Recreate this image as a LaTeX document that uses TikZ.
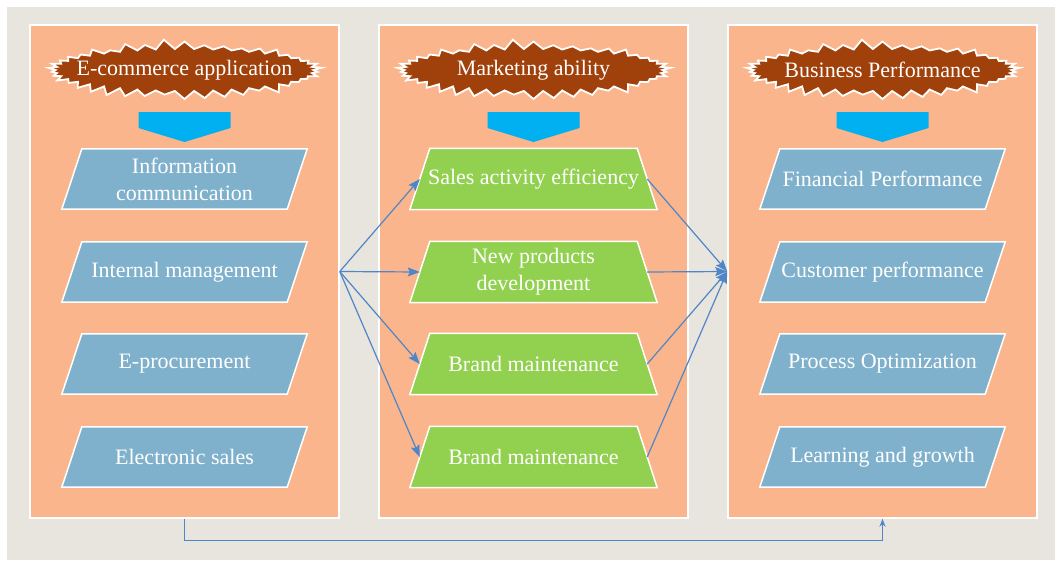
\documentclass[tikz,border=0pt]{standalone}
\usepackage{fontspec}
\setmainfont{Liberation Serif}
\usetikzlibrary{shapes.symbols,arrows.meta,calc,backgrounds}
\pgfdeclarelayer{boxes}
\pgfsetlayers{background,boxes,main}

\definecolor{canvasgrey}{HTML}{E8E4DE}
\definecolor{panelorange}{HTML}{FAB58C}
\definecolor{parablue}{HTML}{80B1CC}
\definecolor{trapgreen}{HTML}{92D050}
\definecolor{chevroncyan}{HTML}{00B0F0}
\definecolor{burstbrown}{HTML}{A0400A}
\definecolor{linkblue}{HTML}{4F86C8}

% title text that does not widen its starburst
\newcommand{\bursttext}[1]{\makebox[0pt]{#1}}

\tikzset{
  panel/.style={fill=panelorange, draw=white, line width=1.5pt,
    minimum width=309pt, minimum height=493pt, inner sep=0pt},
  burst/.style={shape=starburst, fill=burstbrown, draw=white, line width=1.8pt,
    starburst points=42, starburst point height=10pt, random starburst=11,
    minimum width=278pt, minimum height=62pt, inner sep=0pt, text=white,
    font=\fontsize{22}{26}\selectfont},
  boxtext/.style={inner sep=0pt, text=white, align=center,
    font=\fontsize{22}{27}\selectfont},
  parabox/.style={boxtext, minimum width=225pt, minimum height=60pt},
  trapbox/.style={boxtext, minimum width=247pt, minimum height=61pt},
  parashape/.style={fill=parablue, draw=white, line width=1.5pt},
  trapshape/.style={fill=trapgreen, draw=white, line width=1.5pt},
  link/.style={draw=linkblue, line width=1.2pt,
    -{Stealth[length=12pt, width=9pt, inset=2pt]}},
}

\begin{document}
\begin{tikzpicture}[x=1pt, y=-1pt]
  \useasboundingbox (0,0) rectangle (1055,560);

  % canvas and the three column panels
  \begin{pgfonlayer}{background}
    \fill[white] (0,0) rectangle (1055,560);
    \fill[canvasgrey] (7,7) rectangle (1055,560);
    \node[panel] (P1) at (184.5,271.5) {};
    \node[panel] (P2) at (533.5,271.5) {};
    \node[panel] (P3) at (882.5,271.5) {};
  \end{pgfonlayer}

  % column titles
  \node[burst] (T1) at (184.5,70) {\bursttext{E-commerce application}};
  \node[burst] (T2) at (533.5,70) {\bursttext{Marketing ability}};
  \node[burst] (T3) at (882.5,70) {\bursttext{Business Performance}};

  % downward chevrons under the titles
  \foreach \cx in {184.5,533.5,882.5}
    \fill[chevroncyan] (\cx-46,112) -- (\cx+46,112) -- (\cx+46,128)
      -- (\cx,142) -- (\cx-46,128) -- cycle;

  % left column
  \node[parabox] (A1) at (184.5,179) {Information\\communication};
  \node[parabox] (A2) at (184.5,272) {Internal management};
  \node[parabox] (A3) at (184.5,364) {E-procurement};
  \node[parabox] (A4) at (184.5,457) {Electronic sales};

  % middle column
  \node[trapbox] (B1) at (533.5,179) {Sales activity efficiency};
  \node[trapbox] (B2) at (533.5,272) {New products\\development};
  \node[trapbox] (B3) at (533.5,364) {Brand maintenance};
  \node[trapbox] (B4) at (533.5,457) {Brand maintenance};

  % right column
  \node[parabox] (C1) at (882.5,179) {Financial Performance};
  \node[parabox] (C2) at (882.5,272) {Customer performance};
  \node[parabox] (C3) at (882.5,364) {Process Optimization};
  \node[parabox] (C4) at (882.5,457) {Learning and growth};

  % box outlines, drawn beneath the labels
  \begin{pgfonlayer}{boxes}
    \foreach \n in {A1,A2,A3,A4,C1,C2,C3,C4}
      \path[parashape] ([xshift=-10pt]\n.south west) -- ([xshift=-10pt]\n.south east)
        -- ([xshift=10pt]\n.north east) -- ([xshift=10pt]\n.north west) -- cycle;
    \foreach \n in {B1,B2,B3,B4}
      \path[trapshape] (\n.south west) -- (\n.south east)
        -- ([xshift=-20pt]\n.north east) -- ([xshift=20pt]\n.north west) -- cycle;
  \end{pgfonlayer}

  % fan-out from the first column, fan-in to the last one
  \foreach \n in {B1,B2,B3,B4} {
    \draw[link] (P1.east) -- ([xshift=10pt]\n.west);
    \draw[link] ([xshift=-10pt]\n.east) -- (P3.west);
  }

  % direct link along the bottom
  \draw[draw=linkblue, line width=1.2pt, -{Stealth[length=8pt, width=6pt]}]
    (P1.south) -- ++(0,22) -| (P3.south);
\end{tikzpicture}
\end{document}
